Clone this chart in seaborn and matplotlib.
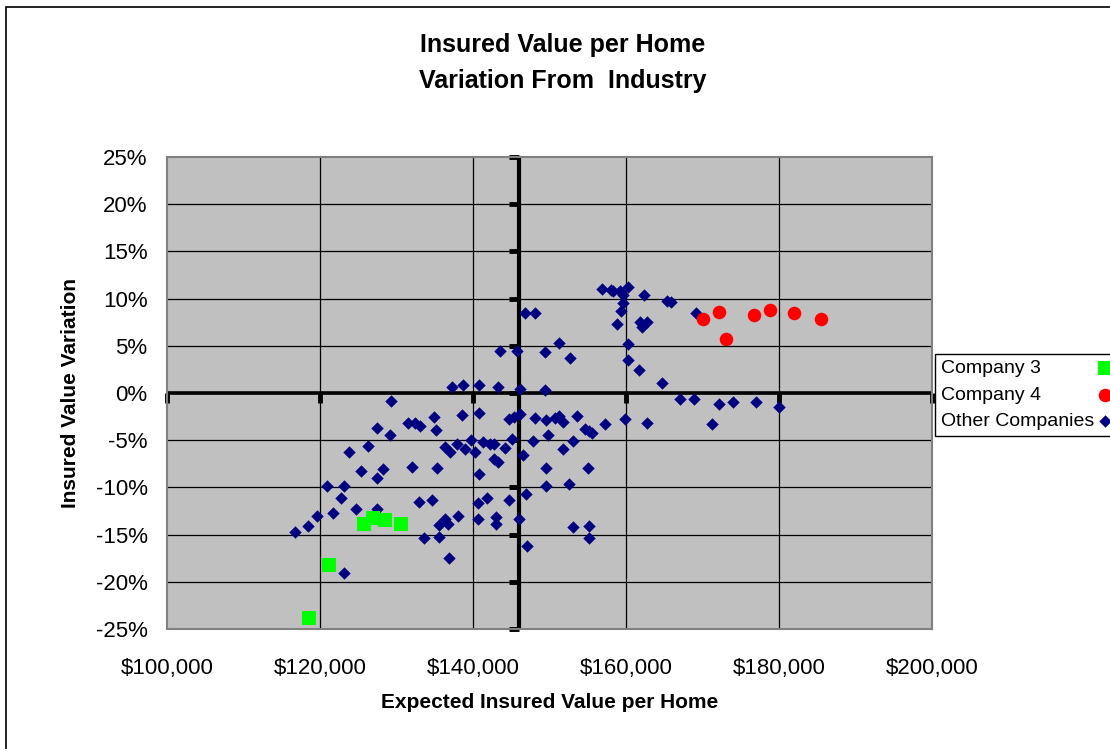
import numpy as np
import pandas as pd
import seaborn as sns
import matplotlib.pyplot as plt
from matplotlib.patches import Rectangle
from matplotlib.ticker import FuncFormatter

# data: expected insured value ($000) and variation (%)
others_k = [137.2, 138.7, 140.8, 143.3, 146.2, 129.3, 138.5, 140.8, 134.9, 131.5,
            132.4, 133.1, 127.4, 129.1, 135.1, 144.7, 145.3, 146.1, 126.3, 123.8,
            136.3, 137.0, 137.9, 139.0, 139.7, 140.2, 141.3, 142.2, 142.7, 144.2,
            145.1, 146.6, 125.3, 128.2, 127.4, 132.0, 135.3, 142.7, 143.3, 140.8,
            120.9, 123.2, 122.7, 121.7, 124.7, 127.4, 119.6, 118.4, 116.7, 133.0,
            134.7, 140.6, 141.8, 144.7, 146.9, 138.1, 136.4, 136.7, 135.6, 140.6,
            143.0, 143.0, 146.0, 133.6, 135.6, 147.0, 136.8, 123.2,
            156.9, 158.0, 158.3, 159.2, 159.6, 160.3, 159.6, 159.4, 158.8, 162.4,
            165.3, 165.9, 161.8, 162.1, 162.8, 146.8, 148.1, 151.2, 143.5, 145.8,
            149.4, 152.7, 160.3, 160.3, 161.7, 164.7, 167.0, 149.4, 148.1, 149.5,
            150.7, 151.3, 151.8, 153.6, 154.6, 155.1, 155.5, 157.3, 159.9, 162.8,
            149.8, 147.9, 153.1, 151.7, 149.5, 155.0, 149.5, 152.5, 153.1, 155.2,
            155.2, 169.2, 168.85, 172.2, 174.0, 177.0, 180.0, 171.3]
others_pct = [0.6, 0.9, 0.9, 0.6, 0.4, -0.85, -2.3, -2.1, -2.5, -3.2,
              -3.2, -3.5, -3.7, -4.4, -3.9, -2.8, -2.5, -2.2, -5.6, -6.25,
              -5.7, -6.25, -5.4, -5.9, -5.0, -6.25, -5.2, -5.4, -5.4, -5.8,
              -4.9, -6.6, -8.3, -8.1, -9.0, -7.8, -7.9, -7.0, -7.3, -8.6,
              -9.85, -9.85, -11.15, -12.7, -12.3, -12.3, -13.0, -14.05, -14.75, -11.5,
              -11.3, -11.7, -11.1, -11.3, -10.65, -13.0, -13.35, -13.9, -14.0, -13.35,
              -13.1, -13.9, -13.35, -15.4, -15.25, -16.2, -17.5, -19.1,
              11.06, 10.95, 10.8, 10.8, 10.35, 11.2, 9.5, 8.7, 7.35, 10.35,
              9.7, 9.6, 7.5, 7.0, 7.5, 8.5, 8.5, 5.3, 4.45, 4.45,
              4.3, 3.75, 5.15, 3.45, 2.45, 1.05, -0.65, 0.36, -2.65, -2.9,
              -2.65, -2.45, -3.1, -2.45, -3.8, -4.05, -4.2, -3.3, -2.8, -3.2,
              -4.5, -5.1, -5.1, -5.95, -7.95, -7.95, -9.85, -9.65, -14.2, -14.05,
              -15.4, 8.5, -0.65, -1.15, -1.0, -1.0, -1.5, -3.3]

comp3_k = [125.8, 126.9, 128.5, 130.6, 121.2, 118.5]
comp3_pct = [-13.9, -13.25, -13.45, -13.9, -18.2, -23.8]

comp4_k = [170.0, 172.1, 173.1, 176.7, 178.8, 181.9, 185.5]
comp4_pct = [7.8, 8.6, 5.7, 8.3, 8.8, 8.5, 7.8]

industry_value = 146000  # where the vertical axis crosses
x_ticks = [100000, 120000, 140000, 160000, 180000, 200000]
y_ticks = [-25, -20, -15, -10, -5, 0, 5, 10, 15, 20, 25]

others = pd.DataFrame({"value": np.array(others_k) * 1000, "var": others_pct})
comp3 = pd.DataFrame({"value": np.array(comp3_k) * 1000, "var": comp3_pct})
comp4 = pd.DataFrame({"value": np.array(comp4_k) * 1000, "var": comp4_pct})

plt.rcParams['font.family'] = ['Liberation Sans', 'DejaVu Sans']

fig = plt.figure(figsize=(11.1, 7.49), dpi=100)
ax = fig.add_axes([167 / 1110, 1 - 629 / 749, 765 / 1110, 472 / 749])
ax.set_facecolor('#C0C0C0')

# gridlines
for xv in x_ticks[1:-1]:
    ax.axvline(xv, color='black', lw=0.9, zorder=1)
for yv in y_ticks[1:-1]:
    ax.axhline(yv, color='black', lw=0.9, zorder=1)

# thick crossing axes with tick stubs
ax.axhline(0, color='black', lw=2.6, zorder=2)
ax.axvline(industry_value, color='black', lw=3.0, zorder=2)
ax.plot([industry_value] * len(y_ticks), y_ticks, ls='', marker=0, ms=7, mew=3.5,
        color='black', zorder=2, clip_on=False)
ax.plot(x_ticks, [0] * len(x_ticks), ls='', marker=3, ms=7, mew=3.5,
        color='black', zorder=2, clip_on=False)

sns.scatterplot(data=others, x="value", y="var", marker='D', s=40, color='#000080',
                edgecolor='#000080', linewidth=0, ax=ax, zorder=3, label='Other Companies')
sns.scatterplot(data=comp3, x="value", y="var", marker='s', s=95, color='#00FF00',
                edgecolor='#00FF00', linewidth=0, ax=ax, zorder=4, label='Company 3')
sns.scatterplot(data=comp4, x="value", y="var", marker='o', s=95, color='#FF0000',
                edgecolor='#FF0000', linewidth=0, ax=ax, zorder=4, label='Company 4')

ax.set_xlim(100000, 200000)
ax.set_ylim(-25, 25)
ax.set_xticks(x_ticks)
ax.set_yticks(y_ticks)
ax.xaxis.set_major_formatter(FuncFormatter(lambda v, p: "${:,.0f}".format(v)))
ax.yaxis.set_major_formatter(FuncFormatter(lambda v, p: "{:.0f}%".format(v)))
ax.tick_params(axis='both', length=0, labelsize=16)
ax.tick_params(axis='y', pad=14)
ax.tick_params(axis='x', pad=21)
for s in ax.spines.values():
    s.set_color('#808080')
    s.set_linewidth(1.5)

ax.set_xlabel("Expected Insured Value per Home", fontsize=15, fontweight='bold', va='center')
ax.xaxis.set_label_coords(0.5, (629 - 703) / 472)
ax.set_ylabel("Insured Value Variation", fontsize=15, fontweight='bold', va='center')
ax.yaxis.set_label_coords((70 - 167) / 765, 0.5)

fig.text(563 / 1110, 1 - 63 / 749, "Insured Value per Home\nVariation From  Industry",
         ha='center', va='center', fontsize=18, fontweight='bold', linespacing=1.65)

handles, labels = ax.get_legend_handles_labels()
order = [1, 2, 0]
leg = ax.legend([handles[i] for i in order], [labels[i] for i in order],
                loc='upper left', bbox_to_anchor=(935 / 1110, 1 - 354 / 749),
                bbox_transform=fig.transFigure, borderaxespad=0, fontsize=14,
                markerfirst=False, fancybox=False, framealpha=1, edgecolor='black',
                handlelength=0.7, handletextpad=0.2, labelspacing=0.45, borderpad=0.3)
leg.get_frame().set_linewidth(1.0)

# left-align legend text while keeping markers in one column on the right
fig.canvas.draw()
renderer = fig.canvas.get_renderer()
widths = [t.get_window_extent(renderer).width for t in leg.get_texts()]
wmax = max(widths)
col = leg._legend_handle_box.get_children()[0]
col.align = 'left'
base_sep = 0.2 * 14
for row, w in zip(col.get_children(), widths):
    row.sep = base_sep + (wmax - w) * 72 / fig.dpi

# outer chart border (cropped at right and bottom)
fig.patches.append(Rectangle((6 / 1110, -0.05), 1.2, 1.05 - 7 / 749, transform=fig.transFigure,
                             fill=False, edgecolor='black', lw=1.2))

fig.savefig("out.png", dpi=100)
